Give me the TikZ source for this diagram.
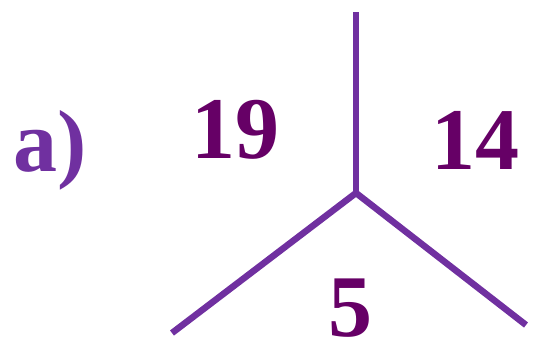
\documentclass[tikz,border=0pt]{standalone}
\usepackage{fontspec}
\setmainfont{Liberation Serif}
\definecolor{edgepurple}{HTML}{7030A0}
\definecolor{numpurple}{HTML}{660066}
\tikzset{
  edge/.style={edgepurple, line width=6.5pt},
  facenum/.style={numpurple, font=\fontsize{88}{88}\selectfont\bfseries, inner sep=0pt},
}
\begin{document}
\begin{tikzpicture}[x=1pt,y=1pt]
\useasboundingbox (0,0) rectangle (533,347);
\coordinate (c) at (356,154);
\coordinate (top) at (356,335);
\coordinate (bl) at (172,14);
\coordinate (br) at (526,22);
\draw[edge] (c)--(top);
\draw[edge] (c)--(bl);
\draw[edge] (c)--(br);
\node[facenum, text=edgepurple] (lbl) at (50,197) {a)};
\node[facenum] (f19) at (235,217) {19};
\node[facenum] (f14) at (475,207) {14};
\node[facenum] (f5) at (350,39) {5};
\end{tikzpicture}
\end{document}
